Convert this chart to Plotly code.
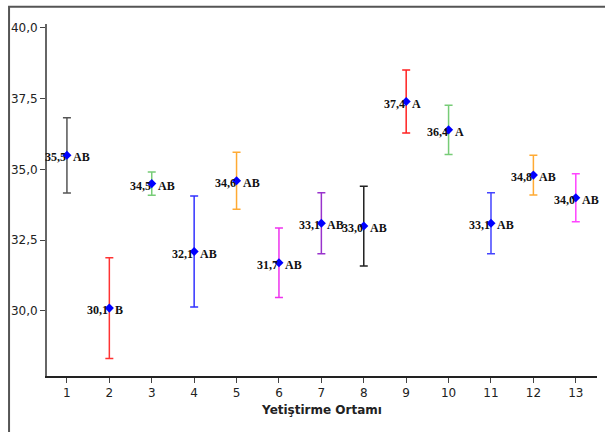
import plotly.graph_objects as go

# Growth media (Yetiştirme Ortamı) 1..13
media = list(range(1, 14))
means = [35.5, 30.1, 34.5, 32.1, 34.6, 31.7, 33.1, 33.0, 37.4, 36.4, 33.1, 34.8, 34.0]
errors = [1.33, 1.78, 0.41, 1.96, 1.01, 1.23, 1.08, 1.41, 1.11, 0.87, 1.08, 0.70, 0.85]
groups = ["AB", "B", "AB", "AB", "AB", "AB", "AB", "AB", "A", "A", "AB", "AB", "AB"]
bar_colors = ["#555555", "#ff3333", "#77cc77", "#3333ff", "#ffaa33", "#ee33ee",
              "#9933cc", "#222222", "#ff2222", "#77cc77", "#4444ff", "#ffaa33", "#ff44ff"]

y_ticks = [30.0, 32.5, 35.0, 37.5, 40.0]
y_tick_text = [f"{v:.1f}".replace(".", ",") for v in y_ticks]

fig = go.Figure()

# One error bar per medium so each gets its own colour
for x, m, e, c in zip(media, means, errors, bar_colors):
    fig.add_trace(go.Scatter(
        x=[x], y=[m], mode="markers",
        marker=dict(size=0.1, color="rgba(0,0,0,0)"),
        error_y=dict(type="data", array=[e], symmetric=True,
                     color=c, thickness=1.5, width=4),
        showlegend=False, hoverinfo="skip",
    ))

# Mean markers
fig.add_trace(go.Scatter(
    x=media, y=means, mode="markers",
    marker=dict(symbol="diamond", size=7, color="#0000ff"),
    showlegend=False,
))

label_font = dict(family="Liberation Serif", size=12, color="#111111")
for x, m, g in zip(media, means, groups):
    num = f"{m:.1f}".replace(".", ",")
    fig.add_annotation(x=x, y=m, text=f"<b>{num}</b>", showarrow=False,
                       xanchor="right", yanchor="middle", xshift=1, yshift=-2,
                       font=label_font)
    fig.add_annotation(x=x, y=m, text=f"<b>{g}</b>", showarrow=False,
                       xanchor="left", yanchor="middle", xshift=4, yshift=-2,
                       font=label_font)

# Outer frame (top and left edges visible)
fig.add_shape(type="rect", xref="paper", yref="paper",
              x0=-0.069, x1=1.05, y0=-0.2, y1=1.049,
              line=dict(color="#555555", width=2), layer="below")

fig.update_layout(
    width=605, height=432,
    margin=dict(l=47, r=8, t=24, b=56),
    paper_bgcolor="white", plot_bgcolor="white",
    font=dict(family="DejaVu Sans", size=12, color="#222222"),
    xaxis=dict(
        range=[0.53, 13.5], tickmode="array", tickvals=media,
        ticktext=[str(v) for v in media],
        showline=True, linecolor="#222222", linewidth=1.5,
        ticks="outside", ticklen=5, tickcolor="#444444",
        showgrid=False, zeroline=False,
        title=dict(text="<b>Yetiştirme Ortamı</b>", font=dict(size=12), standoff=6),
    ),
    yaxis=dict(
        range=[27.70, 40.14], tickmode="array", tickvals=y_ticks,
        ticktext=y_tick_text,
        showline=True, linecolor="#666666", linewidth=2,
        ticks="outside", ticklen=5, tickcolor="#444444",
        showgrid=False, zeroline=False,
    ),
)

fig.write_html("out.html")
